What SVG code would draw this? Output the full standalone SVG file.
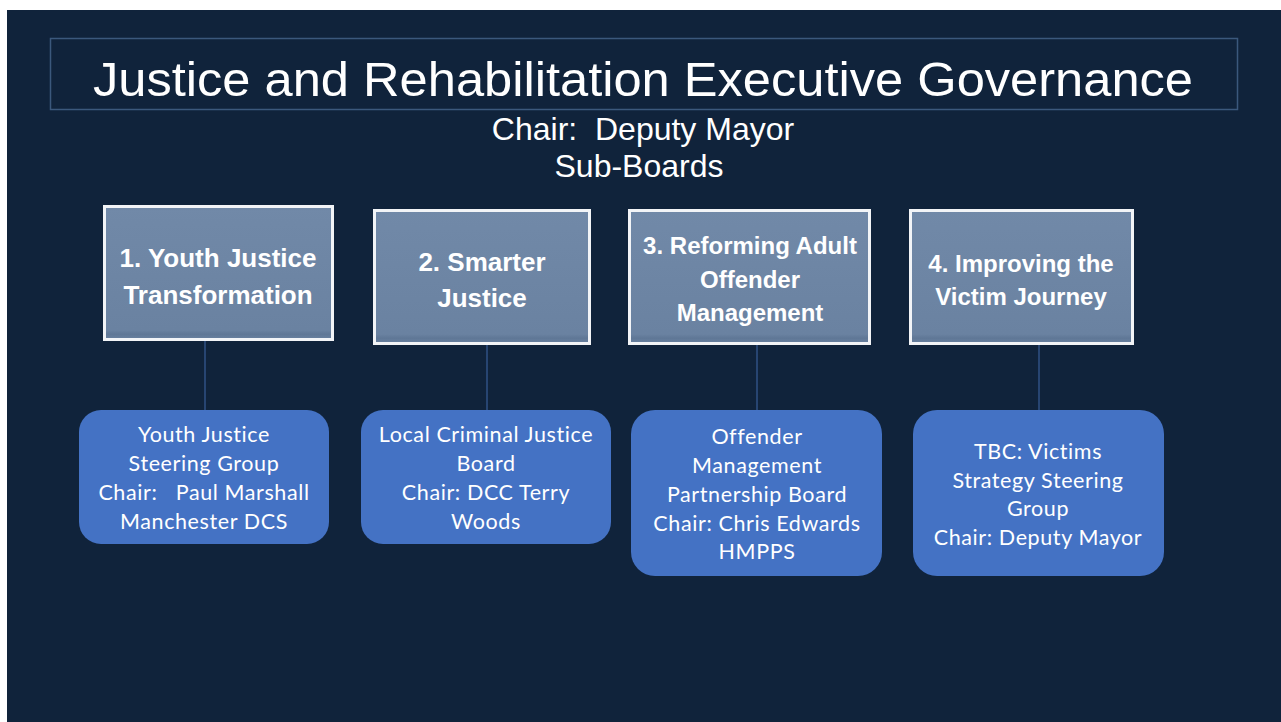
<svg xmlns="http://www.w3.org/2000/svg" width="1281" height="722" viewBox="0 0 1281 722">
<defs>
<linearGradient id="gb" x1="0" y1="0" x2="0" y2="1">
<stop offset="0" stop-color="#7189a8"/>
<stop offset="0.93" stop-color="#6a82a1"/>
<stop offset="0.96" stop-color="#5f7796"/>
<stop offset="1" stop-color="#6a82a1"/>
</linearGradient>
<style>
.bg{fill:#10233b}
.board{fill:url(#gb);stroke:#f2f4f7;stroke-width:3}
.sub{fill:#4472c4}
.bt{font-family:"Liberation Sans",Arial,sans-serif;font-weight:bold;fill:#ffffff;text-anchor:middle}
.st{font-family:Lato,"Open Sans",sans-serif;font-size:21.5px;letter-spacing:0.6px;fill:#ffffff;text-anchor:middle}
.hd{font-family:"Liberation Sans",Arial,sans-serif;fill:#ffffff;text-anchor:middle}
.conn{stroke:#2f5286;stroke-width:1.5}
</style>
</defs>
<rect x="0" y="0" width="1281" height="722" fill="#ffffff"/>
<rect class="bg" x="7" y="10" width="1274" height="712"/>
<g id="title">
<rect x="50.5" y="38.5" width="1187" height="71" fill="none" stroke="#3b587c" stroke-width="1.5"/>
<text class="hd" x="643" y="96" font-size="48" textLength="1100" lengthAdjust="spacingAndGlyphs">Justice and Rehabilitation Executive Governance</text>
<text class="hd" x="643" y="140" font-size="32" xml:space="preserve">Chair:  Deputy Mayor</text>
<text class="hd" x="639" y="177" font-size="32">Sub-Boards</text>
</g>
<g id="connectors">
<line class="conn" x1="205" y1="340" x2="205" y2="410"/>
<line class="conn" x1="487" y1="344" x2="487" y2="410"/>
<line class="conn" x1="757" y1="344" x2="757" y2="410"/>
<line class="conn" x1="1039" y1="344" x2="1039" y2="410"/>
</g>
<g id="board1">
<rect class="board" x="104.5" y="206.5" width="228" height="133"/>
<text class="bt" x="218" y="267" font-size="26">1. Youth Justice</text>
<text class="bt" x="218" y="304" font-size="26">Transformation</text>
</g>
<g id="board2">
<rect class="board" x="374.5" y="210.5" width="215" height="133"/>
<text class="bt" x="482" y="271" font-size="26">2. Smarter</text>
<text class="bt" x="482" y="307" font-size="26">Justice</text>
</g>
<g id="board3">
<rect class="board" x="629.5" y="210.5" width="240" height="133"/>
<text class="bt" x="750" y="254" font-size="24">3. Reforming Adult</text>
<text class="bt" x="750" y="288" font-size="24">Offender</text>
<text class="bt" x="750" y="321" font-size="24">Management</text>
</g>
<g id="board4">
<rect class="board" x="910.5" y="210.5" width="222" height="133"/>
<text class="bt" x="1021" y="272" font-size="24">4. Improving the</text>
<text class="bt" x="1021" y="305" font-size="24">Victim Journey</text>
</g>
<g id="group1">
<rect class="sub" x="79" y="410" width="250" height="134" rx="22"/>
<text class="st" x="204" y="442">Youth Justice</text>
<text class="st" x="204" y="471">Steering Group</text>
<text class="st" x="204" y="500" xml:space="preserve">Chair:   Paul Marshall</text>
<text class="st" x="204" y="529">Manchester DCS</text>
</g>
<g id="group2">
<rect class="sub" x="361" y="410" width="250" height="134" rx="22"/>
<text class="st" x="486" y="442">Local Criminal Justice</text>
<text class="st" x="486" y="471">Board</text>
<text class="st" x="486" y="500">Chair: DCC Terry</text>
<text class="st" x="486" y="529">Woods</text>
</g>
<g id="group3">
<rect class="sub" x="631" y="410" width="251" height="166" rx="24"/>
<text class="st" x="757" y="444">Offender</text>
<text class="st" x="757" y="473">Management</text>
<text class="st" x="757" y="502">Partnership Board</text>
<text class="st" x="757" y="531">Chair: Chris Edwards</text>
<text class="st" x="757" y="559">HMPPS</text>
</g>
<g id="group4">
<rect class="sub" x="913" y="410" width="251" height="166" rx="24"/>
<text class="st" x="1038" y="459">TBC: Victims</text>
<text class="st" x="1038" y="488">Strategy Steering</text>
<text class="st" x="1038" y="516">Group</text>
<text class="st" x="1038" y="545">Chair: Deputy Mayor</text>
</g>
</svg>
